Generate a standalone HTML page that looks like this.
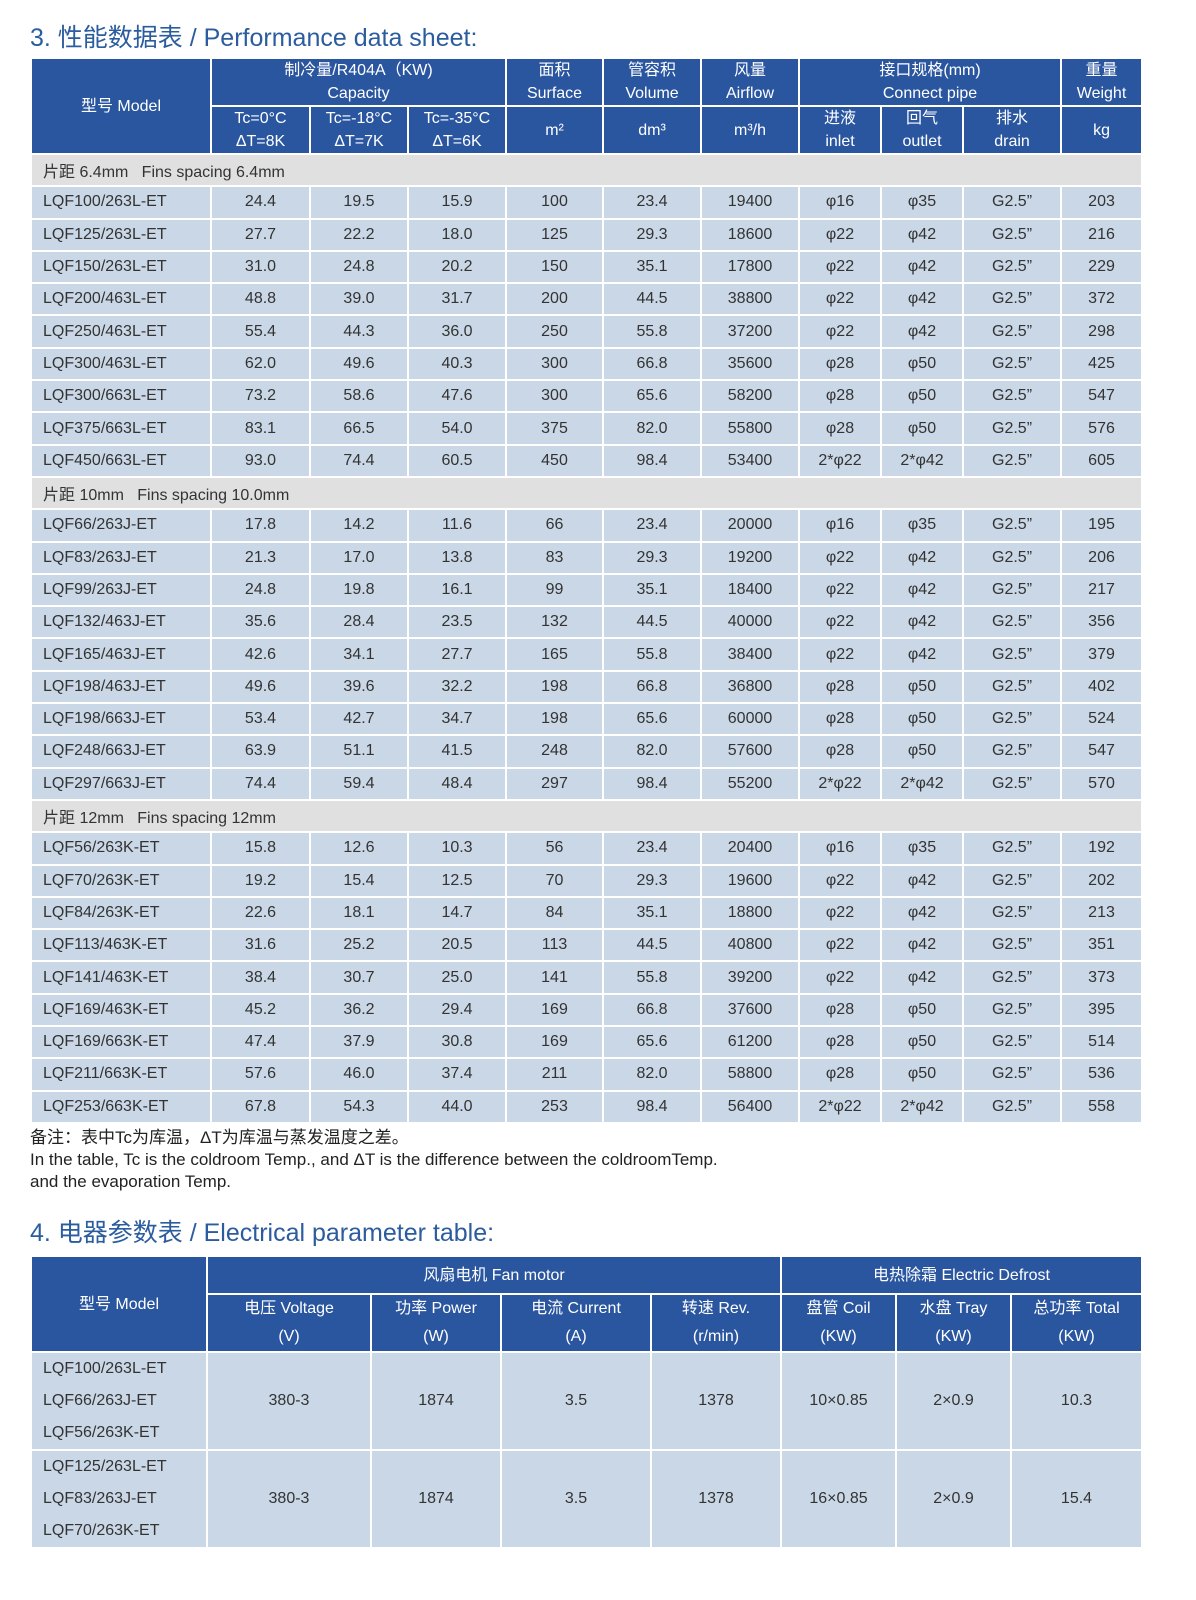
<!DOCTYPE html>
<html><head><meta charset="utf-8"><style>
body{margin:0;width:1196px;height:1600px;background:#fff;font-family:"Liberation Sans","Noto Sans CJK SC",sans-serif;color:#333;position:relative;overflow:hidden}
.t{position:absolute;left:30px;font-size:25px;color:#2b5c9e;white-space:nowrap}
table{position:absolute;left:30px;width:1111px;border-collapse:collapse;table-layout:fixed;font-size:16px}
td,th{border:2px solid #fff;padding:0;text-align:center;white-space:nowrap;overflow:hidden}
th{background:#2a56a0;color:#fff;font-weight:normal;line-height:23px}
td{background:#c9d7e6;height:30.3px}
td.m{text-align:left;padding-left:11px}
td.s{background:#e0e0e0;text-align:left;padding-left:11px}
.note{position:absolute;left:30px;top:1127px;font-size:17px;line-height:22px;color:#222}
#t2 td{height:95px;line-height:32px}
</style></head><body>
<div class="t" style="top:18px">3. 性能数据表 / Performance data sheet:</div>
<table style="top:57px">
<colgroup><col style="width:180px"><col style="width:99px"><col style="width:98px"><col style="width:98px"><col style="width:97px"><col style="width:98px"><col style="width:98px"><col style="width:82px"><col style="width:82px"><col style="width:98px"><col style="width:81px"></colgroup>
<tr style="height:47px"><th rowspan="2">型号 Model</th><th colspan="3">制冷量/R404A（KW)<br>Capacity</th><th>面积<br>Surface</th><th>管容积<br>Volume</th><th>风量<br>Airflow</th><th colspan="3">接口规格(mm)<br>Connect pipe</th><th>重量<br>Weight</th></tr>
<tr style="height:47px"><th>Tc=0°C<br>ΔT=8K</th><th>Tc=-18°C<br>ΔT=7K</th><th>Tc=-35°C<br>ΔT=6K</th><th>m²</th><th>dm³</th><th>m³/h</th><th>进液<br>inlet</th><th>回气<br>outlet</th><th>排水<br>drain</th><th>kg</th></tr>
<tr><td class="s" colspan="11">片距 6.4mm&nbsp;&nbsp;&nbsp;Fins spacing 6.4mm</td></tr>
<tr><td class="m">LQF100/263L-ET</td><td>24.4</td><td>19.5</td><td>15.9</td><td>100</td><td>23.4</td><td>19400</td><td>φ16</td><td>φ35</td><td>G2.5”</td><td>203</td></tr>
<tr><td class="m">LQF125/263L-ET</td><td>27.7</td><td>22.2</td><td>18.0</td><td>125</td><td>29.3</td><td>18600</td><td>φ22</td><td>φ42</td><td>G2.5”</td><td>216</td></tr>
<tr><td class="m">LQF150/263L-ET</td><td>31.0</td><td>24.8</td><td>20.2</td><td>150</td><td>35.1</td><td>17800</td><td>φ22</td><td>φ42</td><td>G2.5”</td><td>229</td></tr>
<tr><td class="m">LQF200/463L-ET</td><td>48.8</td><td>39.0</td><td>31.7</td><td>200</td><td>44.5</td><td>38800</td><td>φ22</td><td>φ42</td><td>G2.5”</td><td>372</td></tr>
<tr><td class="m">LQF250/463L-ET</td><td>55.4</td><td>44.3</td><td>36.0</td><td>250</td><td>55.8</td><td>37200</td><td>φ22</td><td>φ42</td><td>G2.5”</td><td>298</td></tr>
<tr><td class="m">LQF300/463L-ET</td><td>62.0</td><td>49.6</td><td>40.3</td><td>300</td><td>66.8</td><td>35600</td><td>φ28</td><td>φ50</td><td>G2.5”</td><td>425</td></tr>
<tr><td class="m">LQF300/663L-ET</td><td>73.2</td><td>58.6</td><td>47.6</td><td>300</td><td>65.6</td><td>58200</td><td>φ28</td><td>φ50</td><td>G2.5”</td><td>547</td></tr>
<tr><td class="m">LQF375/663L-ET</td><td>83.1</td><td>66.5</td><td>54.0</td><td>375</td><td>82.0</td><td>55800</td><td>φ28</td><td>φ50</td><td>G2.5”</td><td>576</td></tr>
<tr><td class="m">LQF450/663L-ET</td><td>93.0</td><td>74.4</td><td>60.5</td><td>450</td><td>98.4</td><td>53400</td><td>2*φ22</td><td>2*φ42</td><td>G2.5”</td><td>605</td></tr>
<tr><td class="s" colspan="11">片距 10mm&nbsp;&nbsp;&nbsp;Fins spacing 10.0mm</td></tr>
<tr><td class="m">LQF66/263J-ET</td><td>17.8</td><td>14.2</td><td>11.6</td><td>66</td><td>23.4</td><td>20000</td><td>φ16</td><td>φ35</td><td>G2.5”</td><td>195</td></tr>
<tr><td class="m">LQF83/263J-ET</td><td>21.3</td><td>17.0</td><td>13.8</td><td>83</td><td>29.3</td><td>19200</td><td>φ22</td><td>φ42</td><td>G2.5”</td><td>206</td></tr>
<tr><td class="m">LQF99/263J-ET</td><td>24.8</td><td>19.8</td><td>16.1</td><td>99</td><td>35.1</td><td>18400</td><td>φ22</td><td>φ42</td><td>G2.5”</td><td>217</td></tr>
<tr><td class="m">LQF132/463J-ET</td><td>35.6</td><td>28.4</td><td>23.5</td><td>132</td><td>44.5</td><td>40000</td><td>φ22</td><td>φ42</td><td>G2.5”</td><td>356</td></tr>
<tr><td class="m">LQF165/463J-ET</td><td>42.6</td><td>34.1</td><td>27.7</td><td>165</td><td>55.8</td><td>38400</td><td>φ22</td><td>φ42</td><td>G2.5”</td><td>379</td></tr>
<tr><td class="m">LQF198/463J-ET</td><td>49.6</td><td>39.6</td><td>32.2</td><td>198</td><td>66.8</td><td>36800</td><td>φ28</td><td>φ50</td><td>G2.5”</td><td>402</td></tr>
<tr><td class="m">LQF198/663J-ET</td><td>53.4</td><td>42.7</td><td>34.7</td><td>198</td><td>65.6</td><td>60000</td><td>φ28</td><td>φ50</td><td>G2.5”</td><td>524</td></tr>
<tr><td class="m">LQF248/663J-ET</td><td>63.9</td><td>51.1</td><td>41.5</td><td>248</td><td>82.0</td><td>57600</td><td>φ28</td><td>φ50</td><td>G2.5”</td><td>547</td></tr>
<tr><td class="m">LQF297/663J-ET</td><td>74.4</td><td>59.4</td><td>48.4</td><td>297</td><td>98.4</td><td>55200</td><td>2*φ22</td><td>2*φ42</td><td>G2.5”</td><td>570</td></tr>
<tr><td class="s" colspan="11">片距 12mm&nbsp;&nbsp;&nbsp;Fins spacing 12mm</td></tr>
<tr><td class="m">LQF56/263K-ET</td><td>15.8</td><td>12.6</td><td>10.3</td><td>56</td><td>23.4</td><td>20400</td><td>φ16</td><td>φ35</td><td>G2.5”</td><td>192</td></tr>
<tr><td class="m">LQF70/263K-ET</td><td>19.2</td><td>15.4</td><td>12.5</td><td>70</td><td>29.3</td><td>19600</td><td>φ22</td><td>φ42</td><td>G2.5”</td><td>202</td></tr>
<tr><td class="m">LQF84/263K-ET</td><td>22.6</td><td>18.1</td><td>14.7</td><td>84</td><td>35.1</td><td>18800</td><td>φ22</td><td>φ42</td><td>G2.5”</td><td>213</td></tr>
<tr><td class="m">LQF113/463K-ET</td><td>31.6</td><td>25.2</td><td>20.5</td><td>113</td><td>44.5</td><td>40800</td><td>φ22</td><td>φ42</td><td>G2.5”</td><td>351</td></tr>
<tr><td class="m">LQF141/463K-ET</td><td>38.4</td><td>30.7</td><td>25.0</td><td>141</td><td>55.8</td><td>39200</td><td>φ22</td><td>φ42</td><td>G2.5”</td><td>373</td></tr>
<tr><td class="m">LQF169/463K-ET</td><td>45.2</td><td>36.2</td><td>29.4</td><td>169</td><td>66.8</td><td>37600</td><td>φ28</td><td>φ50</td><td>G2.5”</td><td>395</td></tr>
<tr><td class="m">LQF169/663K-ET</td><td>47.4</td><td>37.9</td><td>30.8</td><td>169</td><td>65.6</td><td>61200</td><td>φ28</td><td>φ50</td><td>G2.5”</td><td>514</td></tr>
<tr><td class="m">LQF211/663K-ET</td><td>57.6</td><td>46.0</td><td>37.4</td><td>211</td><td>82.0</td><td>58800</td><td>φ28</td><td>φ50</td><td>G2.5”</td><td>536</td></tr>
<tr><td class="m">LQF253/663K-ET</td><td>67.8</td><td>54.3</td><td>44.0</td><td>253</td><td>98.4</td><td>56400</td><td>2*φ22</td><td>2*φ42</td><td>G2.5”</td><td>558</td></tr>
</table>
<div class="note">备注：表中Tc为库温，ΔT为库温与蒸发温度之差。<br>In the table, Tc is the coldroom Temp., and ΔT is the difference between the coldroomTemp.<br>and the evaporation Temp.</div>
<div class="t" style="top:1213px">4. 电器参数表 / Electrical parameter table:</div>
<table id="t2" style="top:1255px">
<colgroup><col style="width:176px"><col style="width:164px"><col style="width:130px"><col style="width:150px"><col style="width:130px"><col style="width:115px"><col style="width:115px"><col style="width:131px"></colgroup>
<tr style="height:38px"><th rowspan="2">型号 Model</th><th colspan="4">风扇电机 Fan motor</th><th colspan="3">电热除霜 Electric Defrost</th></tr>
<tr style="height:57px"><th style="line-height:28px">电压 Voltage<br>(V)</th><th style="line-height:28px">功率 Power<br>(W)</th><th style="line-height:28px">电流 Current<br>(A)</th><th style="line-height:28px">转速 Rev.<br>(r/min)</th><th style="line-height:28px">盘管 Coil<br>(KW)</th><th style="line-height:28px">水盘 Tray<br>(KW)</th><th style="line-height:28px">总功率 Total<br>(KW)</th></tr>
<tr><td class="m">LQF100/263L-ET<br>LQF66/263J-ET<br>LQF56/263K-ET</td><td>380-3</td><td>1874</td><td>3.5</td><td>1378</td><td>10×0.85</td><td>2×0.9</td><td>10.3</td></tr>
<tr><td class="m">LQF125/263L-ET<br>LQF83/263J-ET<br>LQF70/263K-ET</td><td>380-3</td><td>1874</td><td>3.5</td><td>1378</td><td>16×0.85</td><td>2×0.9</td><td>15.4</td></tr>
</table>
</body></html>
